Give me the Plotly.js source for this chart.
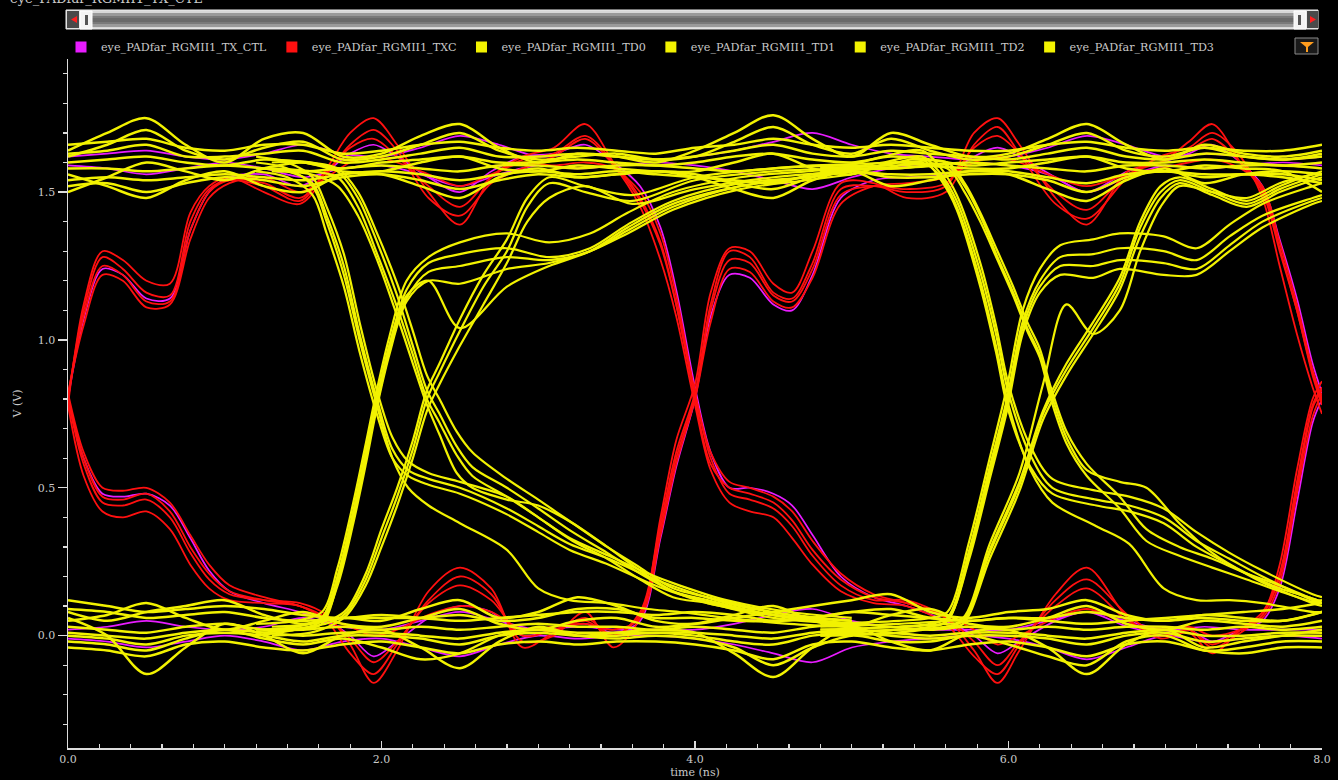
<!DOCTYPE html>
<html>
<head>
<meta charset="utf-8">
<script src="https://cdn.plot.ly/plotly-3.0.1.min.js"></script>
<style>
html,body{margin:0;padding:0;background:#000;}
#chart{width:1338px;height:780px;}
</style>
</head>
<body>
<div id="chart"></div>
<script>
// ---------------- DATA ----------------
const seriesNames = ["eye_PADfar_RGMII1_TX_CTL","eye_PADfar_RGMII1_TXC","eye_PADfar_RGMII1_TD0","eye_PADfar_RGMII1_TD1","eye_PADfar_RGMII1_TD2","eye_PADfar_RGMII1_TD3"];
const xTickVals = [0,2,4,6,8];
const yTickVals = [0,0.5,1.0,1.5];

// time knots for the steady high / low bands (ns)
const BX = [0,0.25,0.5,0.75,1,1.25,1.5,1.75,2,2.25,2.5,2.75,3,3.25,3.5,3.75,4,4.25,4.5,4.75,5,5.25,5.5,5.75,6,6.25,6.5,6.75,7,7.25,7.5,7.75,8];

// TD high band traces (V)
const H1 = [1.64,1.70,1.75,1.66,1.60,1.68,1.70,1.62, 1.63,1.69,1.73,1.65,1.60,1.63,1.62,1.60, 1.64,1.70,1.76,1.68,1.62,1.70,1.66,1.62, 1.63,1.68,1.73,1.66,1.61,1.66,1.63,1.62, 1.64];
const H2 = [1.62,1.66,1.71,1.64,1.61,1.65,1.67,1.61, 1.62,1.66,1.70,1.64,1.61,1.62,1.63,1.61, 1.62,1.67,1.72,1.66,1.63,1.68,1.64,1.61, 1.62,1.66,1.70,1.64,1.62,1.65,1.62,1.61, 1.62];
const H3 = [1.60,1.61,1.62,1.60,1.59,1.61,1.60,1.58, 1.60,1.61,1.62,1.60,1.60,1.61,1.60,1.59, 1.60,1.62,1.63,1.61,1.60,1.62,1.61,1.59, 1.60,1.61,1.62,1.60,1.60,1.61,1.60,1.59, 1.60];
const H4 = [1.58,1.58,1.57,1.58,1.59,1.58,1.57,1.58, 1.59,1.58,1.57,1.59,1.59,1.58,1.59,1.59, 1.58,1.57,1.58,1.59,1.59,1.58,1.59,1.60, 1.59,1.58,1.57,1.59,1.59,1.58,1.59,1.59, 1.58];
const H5 = [1.56,1.52,1.48,1.54,1.57,1.52,1.50,1.56, 1.56,1.52,1.48,1.55,1.58,1.55,1.56,1.57, 1.55,1.51,1.48,1.54,1.57,1.52,1.54,1.57, 1.56,1.51,1.47,1.54,1.58,1.53,1.56,1.57, 1.56];
const H6 = [1.52,1.53,1.50,1.53,1.55,1.54,1.52,1.55, 1.56,1.54,1.51,1.54,1.56,1.55,1.56,1.57, 1.56,1.53,1.51,1.55,1.57,1.55,1.55,1.56, 1.56,1.54,1.50,1.55,1.57,1.55,1.56,1.55, 1.53];
const H7 = [1.63,1.64,1.66,1.62,1.62,1.63,1.64,1.60, 1.61,1.63,1.65,1.62,1.62,1.63,1.62,1.61, 1.62,1.64,1.66,1.63,1.62,1.64,1.63,1.62, 1.61,1.63,1.65,1.62,1.61,1.63,1.62,1.61, 1.63];
const H8 = [1.50,1.55,1.60,1.57,1.54,1.58,1.60,1.57, 1.57,1.60,1.62,1.58,1.57,1.59,1.58,1.57, 1.57,1.60,1.63,1.58,1.56,1.60,1.59,1.58, 1.58,1.60,1.62,1.58,1.57,1.59,1.58,1.57, 1.50];
const H9 = [1.66,1.67,1.68,1.65,1.64,1.66,1.66,1.63, 1.64,1.66,1.67,1.65,1.64,1.65,1.64,1.63, 1.65,1.66,1.68,1.66,1.65,1.66,1.65,1.64, 1.64,1.66,1.67,1.65,1.64,1.65,1.64,1.64, 1.66];
const H10 = [1.54,1.55,1.54,1.55,1.56,1.55,1.54,1.56, 1.57,1.56,1.54,1.56,1.57,1.56,1.57,1.56, 1.55,1.54,1.53,1.56,1.57,1.56,1.56,1.57, 1.57,1.55,1.53,1.56,1.57,1.56,1.56,1.56, 1.54];

// TD low band traces (V)
const L1 = [0.06,0.0,-0.13,-0.04,0.04,0.0,-0.06,0.0, 0.02,-0.04,-0.11,-0.02,0.03,0.0,0.01,0.02, 0.01,-0.06,-0.14,-0.04,0.03,-0.02,-0.05,0.01, 0.02,-0.04,-0.13,-0.03,0.02,-0.04,-0.02,0.0, 0.02];
const L2 = [0.08,0.05,0.08,0.10,0.12,0.07,0.04,0.06, 0.05,0.09,0.12,0.06,0.08,0.13,0.10,0.05, 0.04,0.06,0.08,0.10,0.12,0.14,0.08,0.06, 0.08,0.09,0.12,0.07,0.05,0.07,0.06,0.05, 0.08];
const L3 = [0.03,0.02,0.01,0.03,0.04,0.02,0.02,0.03, 0.02,0.03,0.02,0.03,0.04,0.03,0.03,0.02, 0.03,0.02,0.01,0.03,0.04,0.03,0.02,0.03, 0.02,0.03,0.02,0.03,0.03,0.02,0.03,0.02, 0.03];
const L4 = [0.0,-0.01,-0.03,0.0,0.01,0.0,-0.02,0.0, 0.0,-0.01,-0.03,0.0,0.01,0.0,0.0,0.01, 0.0,-0.02,-0.03,0.0,0.01,0.0,-0.01,0.0, 0.0,-0.01,-0.03,0.0,0.01,-0.02,-0.01,0.0, 0.0];
const L5 = [-0.04,-0.05,-0.07,-0.03,-0.02,-0.04,-0.05,-0.03, -0.02,-0.04,-0.06,-0.03,-0.02,-0.03,-0.02,-0.02, -0.03,-0.05,-0.08,-0.03,-0.02,-0.04,-0.05,-0.03, -0.02,-0.04,-0.07,-0.03,-0.02,-0.05,-0.06,-0.04, -0.04];
const L6 = [0.12,0.10,0.08,0.09,0.10,0.09,0.07,0.06, 0.07,0.06,0.05,0.06,0.07,0.08,0.08,0.07, 0.08,0.07,0.05,0.06,0.08,0.07,0.06,0.05, 0.06,0.05,0.04,0.05,0.06,0.07,0.08,0.09, 0.11];
const L7 = [0.05,0.07,0.11,0.06,0.02,0.05,0.08,0.04, 0.03,0.06,0.09,0.04,0.02,0.05,0.06,0.03, 0.04,0.07,0.10,0.05,0.03,0.07,0.09,0.04, 0.03,0.06,0.10,0.04,0.02,0.05,0.04,0.03, 0.05];
const L8 = [-0.02,-0.03,-0.05,-0.01,0.02,-0.01,-0.03,-0.01, -0.04,-0.08,-0.06,0.0,0.02,0.0,-0.01,0.0, -0.01,-0.04,-0.10,-0.04,0.0,-0.02,-0.02,0.0, -0.03,-0.07,-0.10,-0.02,0.0,-0.05,-0.04,-0.02, -0.02];
const L9 = [0.01,0.0,-0.01,0.01,0.02,0.01,0.0,0.01, 0.01,0.0,-0.01,0.01,0.02,0.01,0.01,0.01, 0.01,0.0,-0.01,0.01,0.02,0.01,0.0,0.01, 0.01,0.0,-0.01,0.01,0.02,0.0,0.0,0.01, 0.01];
const L10 = [0.09,0.08,0.06,0.07,0.08,0.06,0.05,0.06, 0.06,0.06,0.07,0.05,0.06,0.09,0.09,0.06, 0.06,0.05,0.05,0.06,0.08,0.09,0.06,0.05, 0.06,0.06,0.08,0.06,0.05,0.06,0.05,0.05, 0.08];

// TD transitions, first half: falling (cross ~1.97 ns)
const FA_X = [1.2,1.4,1.56,1.65,1.76,1.86,1.97,2.07,2.17,2.3,2.5,2.8,3.0,3.2,3.45,3.7,3.9,4.2,4.6,5.0];
const FA1 = [1.58,1.57,1.53,1.42,1.25,1.02,0.80,0.63,0.56,0.53,0.50,0.43,0.37,0.31,0.26,0.20,0.16,0.11,0.07,0.05];
const FA2 = [1.60,1.58,1.52,1.40,1.22,1.00,0.78,0.60,0.50,0.44,0.38,0.29,0.16,0.12,0.11,0.09,0.08,0.06,0.04,0.03];
const FA3 = [1.62,1.60,1.55,1.45,1.29,1.06,0.83,0.67,0.59,0.55,0.52,0.47,0.40,0.33,0.27,0.21,0.17,0.12,0.08,0.06];
const FA4 = [1.57,1.55,1.49,1.36,1.18,0.96,0.75,0.60,0.54,0.51,0.48,0.41,0.35,0.29,0.24,0.18,0.14,0.10,0.06,0.04];
// falling (cross ~2.29 ns)
const FB_X = [1.3,1.55,1.72,1.85,1.98,2.1,2.2,2.29,2.37,2.48,2.58,2.8,3.0,3.22,3.44,3.65,3.86,4.08,4.5,5.0];
const FB1 = [1.58,1.57,1.55,1.45,1.28,1.11,0.95,0.80,0.72,0.61,0.54,0.47,0.40,0.32,0.26,0.19,0.13,0.11,0.06,0.04];
const FB2 = [1.60,1.60,1.57,1.48,1.32,1.15,0.98,0.83,0.75,0.64,0.57,0.50,0.43,0.35,0.28,0.21,0.15,0.12,0.07,0.05];
const FB3 = [1.57,1.56,1.52,1.42,1.26,1.08,0.92,0.78,0.68,0.55,0.50,0.46,0.44,0.38,0.30,0.22,0.15,0.11,0.07,0.04];
const FB4 = [1.61,1.60,1.58,1.50,1.35,1.19,1.03,0.88,0.80,0.69,0.62,0.53,0.46,0.38,0.30,0.23,0.16,0.13,0.08,0.05];
// rising (cross ~1.97 ns)
const RA_X = [1.2,1.45,1.62,1.72,1.82,1.9,1.97,2.05,2.16,2.3,2.5,2.8,3.07,3.33,3.57,3.86,4.29,4.71,5.0];
const RA1 = [0.02,0.03,0.06,0.20,0.42,0.62,0.80,0.98,1.17,1.26,1.29,1.31,1.28,1.31,1.39,1.47,1.53,1.55,1.57];
const RA2 = [0.00,0.02,0.05,0.17,0.38,0.58,0.77,0.95,1.13,1.20,1.19,1.24,1.26,1.30,1.36,1.44,1.51,1.54,1.56];
const RA3 = [0.04,0.05,0.08,0.23,0.45,0.65,0.83,1.01,1.20,1.28,1.33,1.36,1.33,1.36,1.43,1.50,1.55,1.57,1.58];
const RA4 = [0.02,0.03,0.06,0.20,0.42,0.62,0.80,0.98,1.15,1.20,1.04,1.18,1.25,1.30,1.38,1.46,1.52,1.55,1.57];
const RA5 = [0.01,0.02,0.04,0.18,0.40,0.60,0.78,0.96,1.14,1.23,1.25,1.28,1.27,1.30,1.37,1.45,1.52,1.55,1.57];
// rising (cross ~2.29 ns)
const RB_X = [1.3,1.55,1.7,1.78,1.9,2.0,2.1,2.2,2.29,2.37,2.5,2.65,2.8,2.93,3.07,3.3,3.6,4.0,4.5,5.0];
const RB1 = [0.02,0.03,0.05,0.08,0.19,0.33,0.47,0.63,0.80,0.89,1.03,1.18,1.30,1.45,1.53,1.50,1.47,1.54,1.57,1.58];
const RB2 = [0.00,0.01,0.04,0.07,0.17,0.30,0.44,0.60,0.76,0.85,0.98,1.12,1.26,1.40,1.48,1.52,1.46,1.51,1.55,1.57];
const RB3 = [0.03,0.04,0.06,0.09,0.21,0.36,0.50,0.66,0.83,0.92,1.07,1.22,1.34,1.48,1.55,1.52,1.49,1.55,1.58,1.59];

// TD transitions, second half: falling (cross ~6.0 ns)
const FC_X = [4.8,5.2,5.45,5.57,5.67,5.82,5.92,6.0,6.14,6.28,6.56,6.77,6.99,7.2,7.41,7.62,7.94,8.0];
const FC1 = [1.57,1.60,1.62,1.56,1.47,1.23,1.02,0.82,0.61,0.50,0.46,0.44,0.40,0.32,0.26,0.20,0.12,0.11];
const FC2 = [1.58,1.58,1.60,1.55,1.45,1.20,0.98,0.78,0.56,0.45,0.37,0.31,0.16,0.12,0.12,0.11,0.08,0.08];
const FC3 = [1.56,1.62,1.64,1.58,1.49,1.26,1.05,0.85,0.64,0.53,0.49,0.47,0.43,0.35,0.28,0.22,0.14,0.13];
const FC4 = [1.58,1.59,1.61,1.54,1.44,1.18,0.96,0.76,0.57,0.48,0.44,0.42,0.38,0.30,0.24,0.18,0.11,0.10];
// falling (cross ~6.27 ns)
const FD_X = [4.8,5.3,5.61,5.72,5.82,5.93,6.03,6.12,6.2,6.27,6.37,6.5,6.71,6.88,7.09,7.3,7.52,7.73,7.97,8.0];
const FD1 = [1.57,1.58,1.58,1.50,1.40,1.27,1.15,1.03,0.94,0.80,0.65,0.54,0.43,0.32,0.27,0.23,0.19,0.15,0.11,0.11];
const FD2 = [1.59,1.60,1.60,1.53,1.43,1.30,1.18,1.06,0.97,0.84,0.69,0.58,0.47,0.36,0.30,0.26,0.21,0.17,0.12,0.12];
const FD3 = [1.58,1.59,1.59,1.52,1.42,1.28,1.16,1.04,0.95,0.82,0.67,0.56,0.52,0.50,0.38,0.28,0.21,0.16,0.12,0.11];
// rising (cross ~5.99 ns)
const RC_X = [4.8,5.3,5.5,5.61,5.75,5.88,5.99,6.09,6.2,6.33,6.54,6.71,6.99,7.2,7.41,7.62,7.94,8.0];
const RC1 = [0.02,0.03,0.04,0.06,0.29,0.57,0.80,1.06,1.20,1.28,1.29,1.31,1.30,1.27,1.35,1.42,1.48,1.49];
const RC2 = [0.00,0.01,0.03,0.05,0.26,0.53,0.76,1.02,1.16,1.22,1.21,1.24,1.22,1.22,1.30,1.38,1.46,1.47];
const RC3 = [0.04,0.05,0.06,0.08,0.32,0.60,0.84,1.10,1.24,1.32,1.34,1.36,1.35,1.31,1.39,1.46,1.52,1.53];
const RC4 = [0.01,0.02,0.03,0.05,0.27,0.55,0.78,1.04,1.18,1.25,1.25,1.27,1.26,1.24,1.32,1.40,1.47,1.48];
// rising (cross ~6.25 ns)
const RD_X = [4.8,5.3,5.6,5.71,5.88,6.07,6.22,6.37,6.54,6.71,6.84,6.97,7.09,7.3,7.52,7.73,7.94,8.0];
const RD1 = [0.02,0.03,0.04,0.05,0.29,0.52,0.76,0.92,1.06,1.21,1.40,1.52,1.55,1.51,1.47,1.52,1.56,1.56];
const RD2 = [0.00,0.01,0.03,0.04,0.26,0.49,0.73,0.88,1.02,1.17,1.35,1.48,1.53,1.49,1.45,1.50,1.54,1.55];
const RD3 = [0.03,0.04,0.05,0.06,0.31,0.55,0.85,1.12,1.02,1.10,1.30,1.45,1.52,1.50,1.48,1.53,1.56,1.57];
const RD4 = [0.01,0.02,0.03,0.05,0.28,0.51,0.75,0.90,1.04,1.19,1.38,1.50,1.54,1.50,1.46,1.51,1.55,1.56];

// TXC clock traces (knots, ns)
const RX = [0,0.1,0.22,0.35,0.5,0.65,0.78,0.9,1.03,1.25, 1.48,1.65,1.8,1.95,2.1,2.3,2.5,2.7,2.9,3.1, 3.3,3.48,3.65,3.78,3.88,4.0,4.1,4.22,4.35,4.5, 4.62,4.75,4.93,5.14,5.35,5.6,5.78,5.93,6.07,6.3, 6.5,6.76,6.97,7.15,7.3,7.48,7.62,7.73,7.84,7.94, 8.0];
const TXC_R1 = [0.80,1.10,1.28,1.24,1.16,1.15,1.40,1.51,1.54,1.52, 1.47,1.58,1.70,1.75,1.66,1.50,1.39,1.55,1.62,1.65, 1.73,1.60,1.47,1.32,1.12,0.82,0.60,0.48,0.46,0.43, 0.37,0.27,0.17,0.12,0.12,0.06,-0.05,-0.16,-0.05,0.14, 0.23,0.06,-0.01,0.01,-0.06,0.02,0.08,0.21,0.52,0.78, 0.84];
const TXC_R2 = [0.82,1.05,1.22,1.20,1.11,1.12,1.34,1.48,1.53,1.55, 1.50,1.55,1.60,1.62,1.60,1.56,1.52,1.56,1.60,1.59, 1.60,1.58,1.50,1.36,1.15,0.82,0.62,0.52,0.50,0.47, 0.42,0.32,0.21,0.14,0.11,0.07,0.02,-0.03,0.0,0.06, 0.09,0.04,0.02,0.03,0.0,0.02,0.06,0.18,0.48,0.74, 0.82];
const TXC_R3 = [0.78,1.12,1.30,1.27,1.20,1.19,1.43,1.52,1.55,1.50, 1.46,1.56,1.66,1.71,1.64,1.48,1.42,1.53,1.58,1.62, 1.68,1.59,1.45,1.27,1.08,0.78,0.56,0.45,0.42,0.40, 0.33,0.24,0.15,0.11,0.10,0.04,-0.07,-0.13,-0.03,0.12, 0.19,0.07,0.0,0.02,-0.04,0.01,0.07,0.24,0.56,0.80, 0.86];
const TXC_R4 = [0.81,1.08,1.25,1.22,1.13,1.13,1.37,1.50,1.54,1.53, 1.48,1.57,1.65,1.68,1.62,1.52,1.45,1.55,1.61,1.63, 1.69,1.60,1.48,1.33,1.12,0.80,0.58,0.50,0.48,0.45, 0.39,0.29,0.19,0.13,0.11,0.06,-0.02,-0.10,-0.02,0.10, 0.16,0.05,0.0,0.02,-0.03,0.02,0.07,0.20,0.50,0.77, 0.83];
const TXC_F1 = [0.80,0.58,0.45,0.44,0.46,0.40,0.28,0.19,0.14,0.12, 0.11,0.07,-0.03,-0.16,-0.05,0.15,0.23,0.16,-0.04,0.01, 0.06,0.0,0.08,0.38,0.62,0.82,1.12,1.30,1.28,1.16, 1.14,1.26,1.51,1.52,1.50,1.52,1.70,1.75,1.66,1.48, 1.39,1.57,1.60,1.67,1.73,1.60,1.50,1.30,1.10,0.88, 0.78];
const TXC_F2 = [0.82,0.62,0.50,0.49,0.50,0.45,0.34,0.24,0.17,0.13, 0.10,0.06,0.03,0.0,0.02,0.07,0.10,0.08,0.02,0.03, 0.04,0.02,0.06,0.34,0.58,0.80,1.06,1.24,1.23,1.13, 1.11,1.21,1.46,1.52,1.53,1.55,1.60,1.62,1.60,1.55, 1.52,1.56,1.58,1.60,1.61,1.58,1.52,1.33,1.12,0.90, 0.80];
const TXC_F3 = [0.78,0.54,0.42,0.40,0.42,0.36,0.24,0.16,0.12,0.11, 0.10,0.05,-0.06,-0.13,-0.03,0.12,0.20,0.14,-0.02,0.0, 0.08,-0.04,0.06,0.40,0.66,0.85,1.16,1.31,1.30,1.19, 1.16,1.30,1.53,1.53,1.48,1.50,1.66,1.72,1.63,1.46, 1.41,1.55,1.62,1.65,1.70,1.62,1.48,1.25,1.02,0.84, 0.75];
const TXC_F4 = [0.81,0.60,0.47,0.46,0.48,0.42,0.30,0.21,0.15,0.12, 0.10,0.06,-0.01,-0.09,-0.02,0.11,0.17,0.12,0.0,0.02, 0.05,0.0,0.07,0.36,0.60,0.81,1.10,1.27,1.26,1.15, 1.13,1.24,1.49,1.52,1.51,1.53,1.65,1.69,1.63,1.50, 1.44,1.56,1.60,1.64,1.68,1.60,1.51,1.31,1.10,0.89, 0.79];

// TX_CTL traces
const CTL_R = [0.80,1.07,1.24,1.22,1.14,1.14,1.37,1.50,1.55,1.56, 1.52,1.57,1.63,1.66,1.62,1.55,1.50,1.57,1.62,1.63, 1.66,1.60,1.52,1.38,1.17,0.84,0.62,0.50,0.50,0.48, 0.44,0.34,0.20,0.13,0.10,0.05,0.0,-0.06,-0.02,0.05, 0.08,0.03,0.01,0.02,-0.02,0.02,0.05,0.16,0.45,0.72, 0.80];
const CTL_F = [0.80,0.60,0.48,0.47,0.48,0.44,0.33,0.22,0.15,0.11, 0.08,0.05,0.0,-0.07,-0.02,0.06,0.10,0.08,0.0,0.02, 0.04,0.01,0.05,0.33,0.57,0.80,1.08,1.22,1.21,1.12, 1.10,1.22,1.48,1.54,1.55,1.56,1.62,1.65,1.62,1.55, 1.50,1.57,1.60,1.63,1.66,1.60,1.52,1.34,1.14,0.92, 0.82];
const CTL_H1 = [1.62,1.63,1.64,1.62,1.61,1.63,1.66,1.63, 1.62,1.65,1.69,1.66,1.62,1.63,1.62,1.61, 1.62,1.64,1.67,1.70,1.66,1.63,1.62,1.61, 1.62,1.65,1.69,1.66,1.62,1.63,1.62,1.61, 1.62];
const CTL_H2 = [1.59,1.58,1.56,1.58,1.60,1.58,1.55,1.58, 1.59,1.56,1.52,1.56,1.59,1.58,1.59,1.60, 1.59,1.57,1.54,1.51,1.55,1.58,1.59,1.60, 1.59,1.56,1.50,1.55,1.59,1.58,1.59,1.60, 1.59];
const CTL_L1 = [0.02,0.03,0.05,0.03,0.02,0.03,0.06,0.03, 0.02,0.05,0.08,0.05,0.02,0.03,0.02,0.02, 0.02,0.04,0.07,0.09,0.05,0.03,0.02,0.02, 0.02,0.05,0.08,0.05,0.02,0.03,0.02,0.02, 0.02];
const CTL_L2 = [-0.01,-0.02,-0.04,-0.02,0.0,-0.02,-0.05,-0.02, -0.01,-0.04,-0.07,-0.03,0.0,-0.01,0.0,0.0, -0.01,-0.03,-0.06,-0.09,-0.04,-0.02,-0.01,0.0, -0.01,-0.04,-0.08,-0.04,0.0,-0.02,-0.01,0.0, -0.01];

// ---------------- STYLE ----------------
const COLORS = {ctl:'#e81cff', txc:'#ff1010', td:'#f2f200'};
const legendColors = [COLORS.ctl, COLORS.txc, COLORS.td, COLORS.td, COLORS.td, COLORS.td];
const FONT = 'DejaVu Serif, Liberation Serif, serif';
const TXT = '#c9c9c9';

function curve(x, y, color, group, width){
  return {x:x, y:y, type:'scatter', mode:'lines', legendgroup:group, showlegend:false,
    hoverinfo:'skip', line:{color:color, width:width, shape:'spline', smoothing:0.9}};
}

const traces = [];
// legend entries (square swatches)
seriesNames.forEach((n,i)=>{
  traces.push({x:[null], y:[null], type:'scatter', mode:'markers', name:n, legendgroup:n,
    marker:{symbol:'square', size:11, color:legendColors[i]}, showlegend:true, hoverinfo:'skip'});
});
// TX_CTL
[[BX,CTL_H1],[BX,CTL_H2],[BX,CTL_L1],[BX,CTL_L2],[RX,CTL_R],[RX,CTL_F]].forEach(s=>{
  traces.push(curve(s[0], s[1], COLORS.ctl, seriesNames[0], 1.7));
});
// TXC
[TXC_R1,TXC_R2,TXC_R3,TXC_R4,TXC_F1,TXC_F2,TXC_F3,TXC_F4].forEach(y=>{
  traces.push(curve(RX, y, COLORS.txc, seriesNames[1], 1.8));
});
// TD0..TD3 : steady bands (thicker) then transitions
const tdBands = [
  [BX,H1],[BX,H2],[BX,H3],[BX,H4],[BX,H5],[BX,H6],[BX,H7],[BX,H8],[BX,H9],[BX,H10],
  [BX,L1],[BX,L2],[BX,L3],[BX,L4],[BX,L5],[BX,L6],[BX,L7],[BX,L8],[BX,L9],[BX,L10]
];
const tdEdges = [
  [FA_X,FA1],[FA_X,FA2],[FA_X,FA3],[FA_X,FA4],[FB_X,FB1],[FB_X,FB2],[FB_X,FB3],[FB_X,FB4],
  [RA_X,RA1],[RA_X,RA2],[RA_X,RA3],[RA_X,RA4],[RA_X,RA5],[RB_X,RB1],[RB_X,RB2],[RB_X,RB3],
  [FC_X,FC1],[FC_X,FC2],[FC_X,FC3],[FC_X,FC4],[FD_X,FD1],[FD_X,FD2],[FD_X,FD3],
  [RC_X,RC1],[RC_X,RC2],[RC_X,RC3],[RC_X,RC4],[RD_X,RD1],[RD_X,RD2],[RD_X,RD3],[RD_X,RD4]
];
tdBands.forEach((s,i)=>{
  traces.push(curve(s[0], s[1], COLORS.td, seriesNames[2 + (i % 4)], 2.5));
});
tdEdges.forEach((s,i)=>{
  traces.push(curve(s[0], s[1], COLORS.td, seriesNames[2 + (i % 4)], 2.2));
});

// ---------------- LAYOUT ----------------
const M = {l:68, r:16, t:59, b:32};
const PW = 1338 - M.l - M.r, PH = 780 - M.t - M.b;
const PX = px => (px - M.l) / PW;
const PY = py => (780 - M.b - py) / PH;
function rect(x0,y0,x1,y1,fill,line,lw){
  return {type:'rect', xref:'paper', yref:'paper', x0:PX(x0), x1:PX(x1), y0:PY(y1), y1:PY(y0),
    fillcolor:fill, line:{color:line||fill, width:lw||0}, layer:'above'};
}
function poly(pts, fill){
  let d = pts.map((p,i)=>(i?'L':'M')+PX(p[0]).toFixed(5)+','+PY(p[1]).toFixed(5)).join(' ')+' Z';
  return {type:'path', xref:'paper', yref:'paper', path:d, fillcolor:fill, line:{color:fill, width:0}, layer:'above'};
}
const shapes = [
  // scrollbar
  rect(66,10,1318,29,'#d8d8d8','#eeeeee',1),
  rect(80,13,1306,27,'#9a9a9a'),
  rect(80,16,1306,24,'#7a7a7a'),
  rect(80,18,1306,22,'#6a6a6a'),
  rect(67,11,79,28,'#4a4a4a'),
  poly([[71,19.5],[77,16],[77,23]],'#ff2020'),
  rect(80,11,92,29,'#f4f4f4','#ffffff',1),
  rect(85,15,88,25,'#555555'),
  rect(1294,11,1306,29,'#f4f4f4','#ffffff',1),
  rect(1298,15,1301,25,'#555555'),
  rect(1307,11,1318,28,'#4a4a4a'),
  poly([[1316,19.5],[1310,16],[1310,23]],'#ff2020'),
  // filter button
  rect(1295,38,1318,54,'#1a1a1a','#8a8a8a',1),
  poly([[1300,42],[1314,42],[1308,47],[1306,47]],'#ff9d1e'),
  rect(1306,46,1308,52,'#ff9d1e')
];

const axisCommon = {
  showgrid:false, zeroline:false, showline:true, linecolor:'#dcdcdc', linewidth:1.5,
  tickcolor:'#dcdcdc', tickwidth:1.2, tickformat:'.1f',
  tickfont:{family:FONT, size:11, color:TXT}, fixedrange:true, automargin:false
};
const layout = {
  width:1338, height:780,
  paper_bgcolor:'#000', plot_bgcolor:'#000',
  margin:M,
  showlegend:true,
  legend:{orientation:'h', x:PX(61), y:PY(47), xanchor:'left', yanchor:'middle',
    font:{family:FONT, size:11.2, color:TXT}, bgcolor:'rgba(0,0,0,0)', itemwidth:30,
    traceorder:'normal', itemclick:false, itemdoubleclick:false},
  xaxis:Object.assign({}, axisCommon, {
    range:[0,8], tickvals:xTickVals, ticks:'inside', ticklen:7, ticklabelstandoff:0,
    minor:{dtick:0.2, tick0:0, ticks:'inside', ticklen:4, tickcolor:'#dcdcdc', showgrid:false},
    title:{text:'time (ns)', font:{family:FONT, size:11, color:TXT}, standoff:3}
  }),
  yaxis:Object.assign({}, axisCommon, {
    range:[-0.38,1.95], tickvals:yTickVals, ticks:'outside', ticklen:9,
    minor:{dtick:0.1, tick0:0, ticks:'outside', ticklen:4, tickcolor:'#dcdcdc', showgrid:false},
    title:{text:'V (V)', font:{family:FONT, size:11, color:TXT}, standoff:14}
  }),
  shapes:shapes,
  annotations:[{
    text:'eye_PADfar_RGMII1_TX_CTL', xref:'paper', yref:'paper', x:PX(8), y:PY(-2),
    xanchor:'left', yanchor:'middle', showarrow:false, font:{family:FONT, size:13, color:TXT}
  }]
};

Plotly.newPlot('chart', traces, layout, {staticPlot:true, displayModeBar:false});
</script>
</body>
</html>
